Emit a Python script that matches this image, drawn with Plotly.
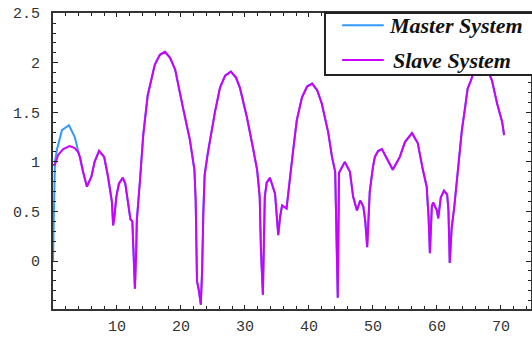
import plotly.graph_objects as go

# ---- data ----
slave_x = [0, 0.3, 0.8, 1.6, 2.6, 3.4, 3.9, 4.2, 4.7, 5.3, 6.0, 6.5, 7.2, 8.0, 8.6, 9.2, 9.4, 9.6, 9.9,
           10.3, 10.9, 11.3, 11.7, 12.1, 12.4, 12.6, 12.8, 13.0, 13.1, 13.6, 14.1, 14.8, 15.9, 16.7,
           17.5, 18.3, 19.1, 20.3, 21.4, 22.1, 22.3, 22.5, 22.8, 23.1, 23.3, 23.5, 23.7, 24.2, 25.3,
           26.1, 26.9, 27.8, 28.6, 29.2, 30.3, 31.1, 31.9, 32.3, 32.5, 32.8, 33.1, 33.4, 33.9, 34.7,
           35.0, 35.2, 35.5, 35.8, 36.5, 37.0, 37.5, 38.1, 38.9, 39.7, 40.5, 41.3, 42.0, 43.0, 43.6,
           44.1, 44.3, 44.5, 44.7, 45.2, 45.6, 46.4, 46.9, 47.5, 48.0, 48.5, 48.8, 49.1, 49.5, 50.0,
           50.3, 50.8, 51.4, 52.3, 53.1, 54.2, 55.0, 56.1, 57.0, 57.8, 58.4, 58.7, 58.9, 59.2, 59.4,
           60.0, 60.2, 60.6, 61.1, 61.6, 61.8, 62.0, 62.3, 62.7, 63.1, 63.4, 63.9, 64.4, 64.8, 65.3,
           66.0, 67.0, 68.0, 68.6, 69.4, 70.2, 70.5]
slave_y = [0.97, 0.97, 1.07, 1.13, 1.16, 1.14, 1.10, 1.05, 0.90, 0.75, 0.85, 1.00, 1.11, 1.05, 0.85,
           0.60, 0.36, 0.45, 0.65, 0.78, 0.84, 0.78, 0.60, 0.42, 0.40, 0.10, -0.28, 0.10, 0.41, 0.82,
           1.27, 1.67, 1.98, 2.08, 2.11, 2.05, 1.93, 1.55, 1.22, 0.92, 0.60, -0.20, -0.30, -0.44,
           -0.10, 0.50, 0.87, 1.09, 1.50, 1.75, 1.87, 1.91, 1.85, 1.75, 1.45, 1.19, 0.92, 0.65, 0.10,
           -0.34, 0.65, 0.79, 0.84, 0.68, 0.44, 0.26, 0.45, 0.56, 0.53, 0.85, 1.10, 1.42, 1.65, 1.76,
           1.79, 1.72, 1.59, 1.30, 1.05, 0.90, 0.20, -0.37, 0.89, 0.95, 1.00, 0.90, 0.65, 0.51, 0.61,
           0.55, 0.40, 0.14, 0.70, 0.95, 1.05, 1.11, 1.13, 1.02, 0.92, 1.05, 1.20, 1.29, 1.19, 0.92,
           0.75, 0.43, 0.08, 0.55, 0.59, 0.51, 0.43, 0.64, 0.71, 0.67, 0.51, -0.02, 0.33, 0.54, 0.80,
           1.05, 1.32, 1.55, 1.74, 1.82, 1.95, 2.00, 1.92, 1.82, 1.59, 1.40, 1.27]

# master differs from slave only at the start; afterwards the two coincide
master_start_x = [0, 0.15, 0.3, 0.6, 1.4, 2.5, 3.4, 3.9]
master_start_y = [0.0, 0.6, 1.0, 1.12, 1.32, 1.37, 1.25, 1.12]
merge_index = slave_x.index(4.2)
master_x = master_start_x + slave_x[merge_index:]
master_y = master_start_y + slave_y[merge_index:]

y_tick_vals = [0, 0.5, 1, 1.5, 2, 2.5]
y_tick_text = ["0", "0.5", "1", "1.5", "2", "2.5"]
x_tick_vals = [10, 20, 30, 40, 50, 60, 70]

series_names = ["Master System", "Slave System"]
series_colors = ["#3399FF", "#CC00FF"]

fig = go.Figure()
fig.add_trace(go.Scatter(x=master_x, y=master_y, mode="lines", name=series_names[0],
                         line=dict(color=series_colors[0], width=2), showlegend=False))
fig.add_trace(go.Scatter(x=slave_x, y=slave_y, mode="lines", name=series_names[1],
                         line=dict(color=series_colors[1], width=2), showlegend=False))

tick_font = dict(family="Liberation Mono, Courier New, monospace", size=15, color="#333")

fig.update_xaxes(range=[0, 74.7], tickvals=x_tick_vals, ticks="inside", ticklen=4, tickwidth=1,
                 tickcolor="#222", showline=True, linewidth=2, linecolor="#333", mirror="ticks",
                 showgrid=False, zeroline=False, tickfont=tick_font, ticklabelstandoff=2,
                 ticklabeloverflow="allow", automargin=False,
                 minor=dict(dtick=2, ticks="inside", ticklen=3, tickcolor="#222", showgrid=False))
fig.update_yaxes(range=[-0.484, 2.502], tickvals=y_tick_vals, ticktext=y_tick_text, ticks="inside",
                 ticklen=5, tickwidth=1, tickcolor="#222", showline=True, linewidth=2,
                 linecolor="#333", mirror="ticks", showgrid=False, zeroline=False,
                 tickfont=tick_font, ticklabelstandoff=8, ticklabeloverflow="allow",
                 automargin=False,
                 minor=dict(tickvals=[round(-0.4 + 0.1 * i, 1) for i in range(29)], ticks="inside",
                            ticklen=3, tickcolor="#222", showgrid=False))

# manual legend box (drawn above the curves, opaque)
legend_font = dict(family="Liberation Serif, Times New Roman, serif", size=22, color="#111")
fig.add_shape(type="rect", xref="paper", yref="paper", x0=0.569, x1=1.02, y0=0.7905, y1=1.0,
              fillcolor="white", line=dict(color="#222", width=2), layer="above")
legend_rows = [0.959, 0.841]
for name, color, yy, tx in zip(series_names, series_colors, legend_rows, [0.699, 0.707]):
    fig.add_shape(type="line", xref="paper", yref="paper", x0=0.605, x1=0.692, y0=yy, y1=yy,
                  line=dict(color=color, width=2), layer="above")
    fig.add_annotation(xref="paper", yref="paper", x=tx, y=yy, xanchor="left", yanchor="middle",
                       text="<b><i>" + name + "</i></b>", showarrow=False, font=legend_font)

fig.update_layout(width=532, height=337, margin=dict(l=53, r=1, t=13, b=28, autoexpand=False),
                  autosize=False, paper_bgcolor="white", plot_bgcolor="white", showlegend=False)

# remove the default 8px page margin so the figure fills the window exactly
fig.write_html("out.html", config={"displayModeBar": False},
               post_script="document.body.style.margin='0px';document.body.style.overflow='hidden';")
